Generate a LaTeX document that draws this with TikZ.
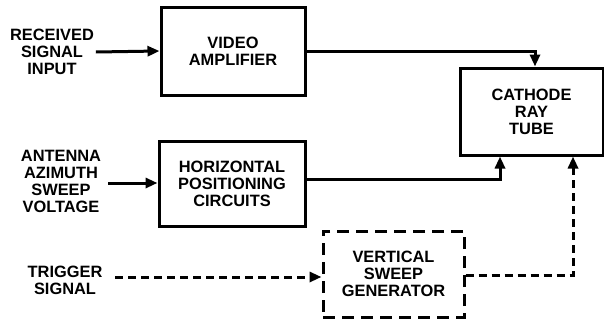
\documentclass[tikz,border=0pt]{standalone}
\usepackage{fontspec}
\setsansfont{Liberation Sans}
\usetikzlibrary{arrows.meta, positioning, calc}

\begin{document}
\begin{tikzpicture}[
  x=0.5pt, y=-0.5pt,
  block/.style={draw, line width=1.5pt, align=center, inner sep=0pt},
  dblock/.style={block, dash pattern=on 6pt off 3.5pt},
  label/.style={align=center, inner sep=1pt, outer sep=0pt},
  sig/.style={line width=1.5pt, -{Triangle[length=6pt, width=5pt]}},
  dsig/.style={sig, dash pattern=on 4pt off 2.5pt},
  font=\sffamily\bfseries\fontsize{8.2}{8.5}\selectfont,
]
\useasboundingbox (0,0) rectangle (604,321);

% blocks
\node[block, minimum width=72pt, minimum height=44pt] (video) at (233,51) {VIDEO\\AMPLIFIER};
\node[block, minimum width=73pt, minimum height=42.5pt] (horiz) at (232,183.5) {HORIZONTAL\\POSITIONING\\CIRCUITS};
\node[block, minimum width=71.5pt, minimum height=43.5pt] (crt) at (531.5,111.5) {CATHODE\\RAY\\TUBE};
\node[dblock, minimum width=70.5pt, minimum height=43pt] (vsg) at (393.5,274) {VERTICAL\\SWEEP\\GENERATOR};

% inputs
\node[label] (rsi) at (52,52) {RECEIVED\\SIGNAL\\INPUT};
\node[label] (ant) at (61,181) {ANTENNA\\AZIMUTH\\SWEEP\\VOLTAGE};
\node[label] (trig) at (65,280) {TRIGGER\\SIGNAL};

% connections
\draw[sig] (rsi.east) -- (video.west);
\draw[sig] (ant.east |- 0,183) ++(5,0) -- (horiz.west |- 0,183);
\draw[dsig] (trig.east |- 0,277) ++(11,0) -- (vsg.west |- 0,277);
\draw[sig] (video.east) -| ($(crt.north)+(3.5,0)$);
\draw[sig] (horiz.east |- 0,179) -| ($(crt.south)+(-31.5,0)$);
\draw[dsig] (vsg.east |- 0,275) -| ($(crt.south)+(41.5,0)$);

\end{tikzpicture}
\end{document}
